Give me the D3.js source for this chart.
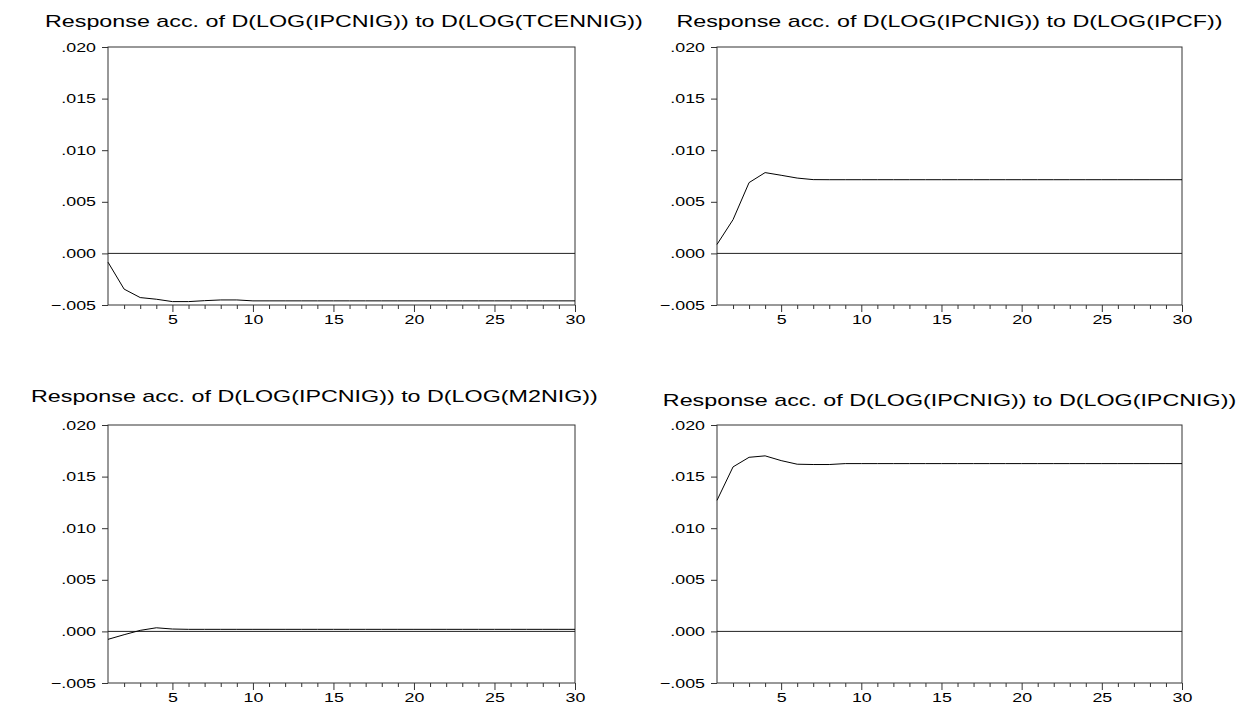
<!DOCTYPE html>
<html lang="en">
<head>
<meta charset="UTF-8">
<title>Accumulated responses</title>
<script src="https://d3js.org/d3.v7.min.js"></script>
<style>
  body { margin: 0; background: #fff; }
  svg { display: block; font-family: "Liberation Sans", Arial, sans-serif; }
</style>
</head>
<body>
<div id="chart"></div>
<script>
// periods on the horizontal axis
const periods = [1,2,3,4,5,6,7,8,9,10,11,12,13,14,15,16,17,18,19,20,21,22,23,24,25,26,27,28,29,30];

// accumulated responses of D(LOG(IPCNIG))
const toTcennig = [-0.00085,-0.00346,-0.00428,-0.00444,-0.00467,-0.00467,-0.00458,-0.00451,-0.00451,-0.00460,
  -0.00460,-0.00460,-0.00460,-0.00460,-0.00460,-0.00460,-0.00460,-0.00460,-0.00460,-0.00460,
  -0.00460,-0.00460,-0.00460,-0.00460,-0.00460,-0.00460,-0.00460,-0.00460,-0.00460,-0.00460];
const toIpcf = [0.00087,0.00327,0.00686,0.00783,0.00757,0.00730,0.00715,0.00714,0.00714,0.00714,
  0.00714,0.00714,0.00714,0.00714,0.00714,0.00714,0.00714,0.00714,0.00714,0.00714,
  0.00714,0.00714,0.00714,0.00714,0.00714,0.00714,0.00714,0.00714,0.00714,0.00714];
const toM2nig = [-0.00077,-0.00032,0.00010,0.00035,0.00023,0.00020,0.00020,0.00020,0.00020,0.00020,
  0.00020,0.00020,0.00020,0.00020,0.00020,0.00020,0.00020,0.00020,0.00020,0.00020,
  0.00020,0.00020,0.00020,0.00020,0.00020,0.00020,0.00020,0.00020,0.00020,0.00020];
const toIpcnig = [0.01270,0.01594,0.01687,0.01701,0.01655,0.01620,0.01617,0.01617,0.01626,0.01626,
  0.01626,0.01626,0.01626,0.01626,0.01626,0.01626,0.01626,0.01626,0.01626,0.01626,
  0.01626,0.01626,0.01626,0.01626,0.01626,0.01626,0.01626,0.01626,0.01626,0.01626];

const titles = [
  "Response acc. of D(LOG(IPCNIG)) to D(LOG(TCENNIG))",
  "Response acc. of D(LOG(IPCNIG)) to D(LOG(IPCF))",
  "Response acc. of D(LOG(IPCNIG)) to D(LOG(M2NIG))",
  "Response acc. of D(LOG(IPCNIG)) to D(LOG(IPCNIG))"
];
const yTicks = [-0.005, 0.000, 0.005, 0.010, 0.015, 0.020];
const xMajor = [5, 10, 15, 20, 25, 30];
const xMinor = [2,3,4,6,7,8,9,11,12,13,14,16,17,18,19,21,22,23,24,26,27,28,29];

const series = [toTcennig, toIpcf, toM2nig, toIpcnig];

// panel frames (plot box) and title placement
const panels = [
  {left: 108, right: 575, top: 47, bottom: 305, titleX: 45, titleY: 27},
  {left: 717, right: 1182, top: 47, bottom: 305, titleX: null, titleY: 27},
  {left: 108, right: 575, top: 425, bottom: 683, titleX: 31, titleY: 402},
  {left: 717, right: 1182, top: 425, bottom: 683, titleX: null, titleY: 406}
];

const w = 1253, h = 704;
const stretch = 1.37;   // the original graph text is horizontally stretched

const svg = d3.select("#chart").append("svg")
  .attr("width", w)
  .attr("height", h);

const fmt = v => d3.format(".3f")(v).replace("0.", ".");

function widen(sel) {
  sel.each(function() {
    const len = this.getComputedTextLength();
    d3.select(this)
      .attr("textLength", len * stretch)
      .attr("lengthAdjust", "spacingAndGlyphs");
  });
}

panels.forEach((p, i) => {
  const x = d3.scaleLinear().domain([1, 30]).range([p.left, p.right]);
  const y = d3.scaleLinear().domain([-0.005, 0.020]).range([p.bottom, p.top]);
  const g = svg.append("g");

  // title
  const t = g.append("text")
    .attr("y", p.titleY)
    .attr("font-size", 17)
    .attr("fill", "#000")
    .text(titles[i]);
  const tw = t.node().getComputedTextLength() * stretch;
  widen(t);
  t.attr("x", p.titleX !== null ? p.titleX : (p.left + p.right) / 2 - tw / 2);

  // y axis
  const ya = g.append("g")
    .attr("transform", `translate(${p.left},0)`)
    .call(d3.axisLeft(y).tickValues(yTicks).tickFormat(fmt).tickSize(6).tickPadding(6));
  ya.select(".domain").remove();
  ya.selectAll("line").attr("stroke", "#333");
  ya.selectAll("text").attr("font-size", 13).attr("fill", "#000")
    .attr("font-family", "Liberation Sans, Arial, sans-serif");
  widen(ya.selectAll("text"));

  // x axis minor ticks
  const xm = g.append("g")
    .attr("transform", `translate(0,${p.bottom})`)
    .call(d3.axisBottom(x).tickValues(xMinor).tickFormat("").tickSize(4));
  xm.select(".domain").remove();
  xm.selectAll("line").attr("stroke", "#333");

  // x axis major ticks with labels
  const xa = g.append("g")
    .attr("transform", `translate(0,${p.bottom})`)
    .call(d3.axisBottom(x).tickValues(xMajor).tickSize(7).tickPadding(3));
  xa.select(".domain").remove();
  xa.selectAll("line").attr("stroke", "#333");
  xa.selectAll("text").attr("font-size", 13).attr("fill", "#000")
    .attr("font-family", "Liberation Sans, Arial, sans-serif");
  widen(xa.selectAll("text"));

  // frame
  g.append("rect")
    .attr("x", p.left)
    .attr("y", p.top)
    .attr("width", p.right - p.left)
    .attr("height", p.bottom - p.top)
    .attr("fill", "none")
    .attr("stroke", "#333")
    .attr("stroke-width", 1);

  // zero line
  g.append("line")
    .attr("x1", p.left).attr("x2", p.right)
    .attr("y1", y(0)).attr("y2", y(0))
    .attr("stroke", "#222")
    .attr("stroke-width", 1);

  // response line
  const line = d3.line()
    .x((d, j) => x(periods[j]))
    .y(d => y(d));
  g.append("path")
    .datum(series[i])
    .attr("d", line)
    .attr("fill", "none")
    .attr("stroke", "#000")
    .attr("stroke-width", 1);
});
</script>
</body>
</html>
